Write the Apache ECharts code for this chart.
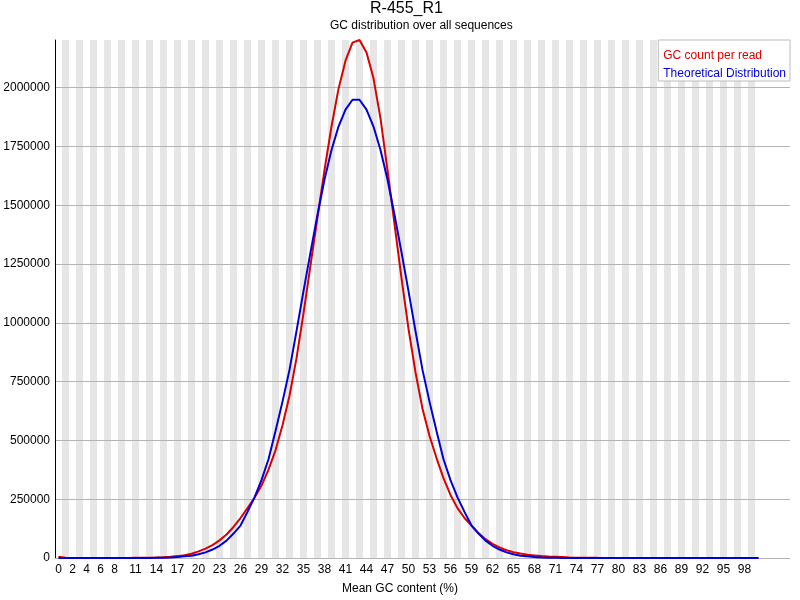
<!DOCTYPE html>
<html>
<head>
<meta charset="utf-8">
<title>R-455_R1 GC distribution</title>
<script src="https://cdn.jsdelivr.net/npm/echarts@6.0.0/dist/echarts.min.js"></script>
<style>
  html, body { margin: 0; padding: 0; background: #fff; }
  #chart { width: 800px; height: 600px; }
</style>
</head>
<body>
<div id="chart"></div>
<script>
// x categories: mean GC content 0..100 %, plus a few empty slots on the right
var gcPercent = [
  0, 1, 2, 3, 4, 5, 6, 7, 8, 9, 10, 11, 12, 13, 14, 15, 16, 17, 18, 19, 20,
  21, 22, 23, 24, 25, 26, 27, 28, 29, 30, 31, 32, 33, 34, 35, 36, 37, 38, 39, 40,
  41, 42, 43, 44, 45, 46, 47, 48, 49, 50, 51, 52, 53, 54, 55, 56, 57, 58, 59, 60,
  61, 62, 63, 64, 65, 66, 67, 68, 69, 70, 71, 72, 73, 74, 75, 76, 77, 78, 79, 80,
  81, 82, 83, 84, 85, 86, 87, 88, 89, 90, 91, 92, 93, 94, 95, 96, 97, 98, 99, 100
]
var emptySlots = [101, 102, 103, 104]

// labels that are printed under the x axis
var xTickLabels = [0, 2, 4, 6, 8, 11, 14, 17, 20, 23, 26, 29, 32, 35, 38, 41, 44, 47,
  50, 53, 56, 59, 62, 65, 68, 71, 74, 77, 80, 83, 86, 89, 92, 95, 98]

// GC count per read (red)
var gcCount = [
  5000, 800, 300, 200, 200, 200, 200, 250, 300, 400,
  500, 700, 900, 1200, 1800, 3000, 5000, 8000, 12000, 18000,
  28000, 40000, 55000, 75000, 100000, 132000, 170000, 212000, 256000, 308000,
  376000, 458000, 565000, 690000, 850000, 1040000, 1245000, 1450000, 1650000, 1835000,
  1995000, 2115000, 2192000, 2203000, 2150000, 2040000, 1870000, 1650000, 1420000, 1190000,
  975000, 790000, 635000, 520000, 425000, 340000, 268000, 212000, 170000, 138000,
  106000, 80000, 60000, 45000, 33000, 25000, 19000, 14000, 11000, 8000,
  6000, 5000, 4000, 2500, 1500, 1000, 800, 600, 500, 400,
  300, 250, 200, 150, 120, 100, 100, 80, 80, 60,
  60, 50, 50, 40, 40, 30, 30, 30, 20, 20,
  100
]

// Theoretical Distribution (blue)
var theoretical = [
  0, 0, 0, 0, 0, 0, 0, 0, 0, 0,
  0, 100, 200, 500, 1000, 1500, 2500, 4000, 7000, 10000,
  16000, 24000, 36000, 52000, 74000, 104000, 138000, 196000, 258000, 331000,
  420000, 540000, 665000, 800000, 965000, 1135000, 1300000, 1460000, 1610000, 1735000,
  1835000, 1907000, 1949000, 1949000, 1907000, 1835000, 1735000, 1610000, 1460000, 1300000,
  1135000, 965000, 800000, 665000, 540000, 420000, 331000, 258000, 196000, 138000,
  104000, 74000, 52000, 36000, 24000, 16000, 10000, 7000, 4000, 2500,
  1500, 1000, 500, 200, 100, 0, 0, 0, 0, 0,
  0, 0, 0, 0, 0, 0, 0, 0, 0, 0,
  0, 0, 0, 0, 0, 0, 0, 0, 0, 0,
  0
]

// y axis
var yMax = 2203000
var yStep = 250000

var seriesNames = ['GC count per read', 'Theoretical Distribution']
var seriesColors = ['rgb(220,0,0)', 'rgb(0,0,220)']

var font = 'Liberation Sans'
var categories = gcPercent.concat(emptySlots).map(String)

// grey band behind every odd category (only over the real data range)
var stripes = categories.map(function (c) {
  var n = Number(c)
  return (n % 2 === 1 && n <= 99) ? yMax : '-'
})

var myChart = echarts.init(document.getElementById('chart'), null, { renderer: 'canvas' })

var option = {
  animation: false,
  backgroundColor: '#fff',
  title: [{
    text: 'R-455_R1',
    left: 370,
    top: 1,
    padding: 0,
    textStyle: { fontFamily: font, fontSize: 16, fontWeight: 'normal', color: '#000' }
  }, {
    text: 'GC distribution over all sequences',
    left: 330,
    top: 20,
    padding: 0,
    textStyle: { fontFamily: font, fontSize: 12, fontWeight: 'normal', color: '#000' }
  }],
  legend: {
    orient: 'vertical',
    right: 10,
    top: 40,
    icon: 'none',
    itemWidth: 0,
    itemHeight: 14,
    itemGap: 5,
    padding: [9, 4, 1, 0],
    backgroundColor: '#fff',
    borderColor: '#bbb',
    borderWidth: 1,
    borderRadius: 0,
    selectedMode: false,
    textStyle: { fontFamily: font, fontSize: 12 },
    data: seriesNames.map(function (name, i) {
      return { name: name, textStyle: { color: seriesColors[i] } }
    })
  },
  grid: { left: 55, right: 10, top: 40, bottom: 40, containLabel: false },
  xAxis: {
    type: 'category',
    data: categories,
    name: 'Mean GC content (%)',
    nameLocation: 'middle',
    nameGap: 25,
    nameTextStyle: { fontFamily: font, fontSize: 12, color: '#000', padding: [0, 45, 0, 0] },
    axisLine: { show: true, lineStyle: { color: 'rgb(180,180,180)', width: 1 } },
    axisTick: { show: false },
    axisLabel: {
      margin: 6,
      color: '#000',
      fontFamily: font,
      fontSize: 12,
      interval: function (index, value) {
        return xTickLabels.indexOf(Number(value)) !== -1
      }
    },
    splitLine: { show: false }
  },
  yAxis: {
    type: 'value',
    min: 0,
    max: yMax,
    interval: yStep,
    axisLine: { show: true, lineStyle: { color: '#000', width: 1 } },
    axisTick: { show: false },
    axisLabel: {
      margin: 5,
      color: '#000',
      fontFamily: font,
      fontSize: 12,
      showMaxLabel: false,
      formatter: function (v) { return String(v) }
    },
    splitLine: { show: true, showMaxLine: false, lineStyle: { color: 'rgb(180,180,180)', width: 1 } }
  },
  series: [{
    // background stripes
    name: 'stripes',
    type: 'bar',
    data: stripes,
    barCategoryGap: '0%',
    itemStyle: { color: 'rgb(230,230,230)' },
    silent: true,
    z: -1
  }, {
    name: seriesNames[0],
    type: 'line',
    data: gcCount,
    showSymbol: false,
    symbol: 'none',
    lineStyle: { color: seriesColors[0], width: 2 },
    itemStyle: { color: seriesColors[0] },
    z: 3
  }, {
    name: seriesNames[1],
    type: 'line',
    data: theoretical,
    showSymbol: false,
    symbol: 'none',
    lineStyle: { color: seriesColors[1], width: 2 },
    itemStyle: { color: seriesColors[1] },
    z: 4
  }]
}

myChart.setOption(option)
</script>
</body>
</html>
